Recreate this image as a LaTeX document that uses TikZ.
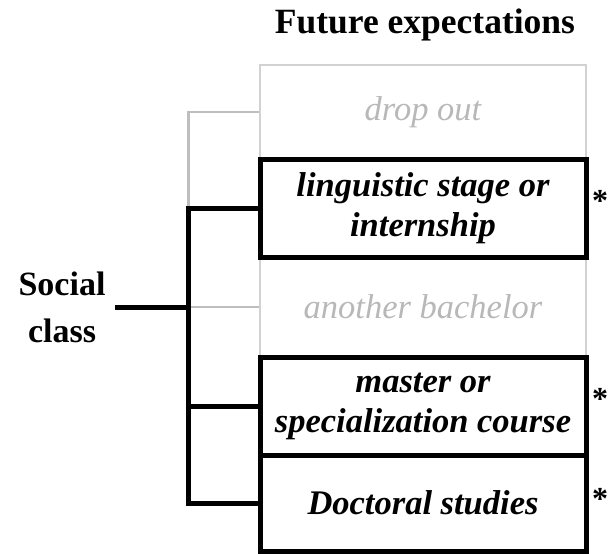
\documentclass[tikz,border=0pt]{standalone}
\usepackage{fontspec}
\setmainfont{Liberation Serif}
\definecolor{lgborder}{HTML}{D2D2D2}
\definecolor{lgline}{HTML}{BEBEBE}
\definecolor{lgtext}{HTML}{B8B8B8}
\tikzset{
  graybox/.style={draw=lgborder, line width=2.5pt, minimum width=326pt, inner sep=0pt,
    align=center, text=lgtext, font=\fontsize{34.5}{40}\selectfont\itshape},
  blackbox/.style={draw=black, line width=5pt, minimum width=326pt, inner sep=0pt,
    align=center, font=\fontsize{34.5}{40}\selectfont\bfseries\itshape},
  blackline/.style={draw=black, line width=5pt},
  grayline/.style={draw=lgline, line width=2.5pt},
  star/.style={anchor=base, inner sep=0pt, font=\fontsize{32}{32}\selectfont\bfseries},
}
\begin{document}
\begin{tikzpicture}[x=1pt,y=-1pt]
\useasboundingbox (0,0) rectangle (608,554);
\node[font=\fontsize{35.5}{40}\selectfont\bfseries, anchor=base] (title) at (425,33) {Future expectations};
% gray boxes
\node[graybox, minimum height=94pt] (drop) at (423,112) {drop out};
\node[graybox, minimum height=100pt] (ano) at (423,307) {another bachelor};
% black boxes
\node[blackbox, minimum height=98pt] (lin) at (423,208) {linguistic stage or\\internship};
\node[blackbox, minimum height=98pt] (mas) at (423,406) {master or\\specialization course};
\node[blackbox, minimum height=96pt] (doc) at (423,503) {Doctoral studies};
% social class
\node[align=center, font=\fontsize{34}{47}\selectfont\bfseries, inner sep=0pt] (soc) at (62,307) {Social\\class};
\coordinate (br) at (188.5,307);
\coordinate (sl) at (115,307);
% gray connectors
\draw[grayline] (drop.west) -| (lin.west -| br);
\draw[grayline] (ano.west) -- (ano.west -| br);
% black connectors
\draw[blackline] (lin.west) -- (lin.west -| br) |- (doc.west);
\draw[blackline] (mas.west) -- (mas.west -| br);
\draw[blackline] (sl) -- (br);
% asterisks
\node[star] (s1) at (600,211) {*};
\node[star] (s2) at (600,409) {*};
\node[star] (s3) at (600,509) {*};
\end{tikzpicture}
\end{document}
